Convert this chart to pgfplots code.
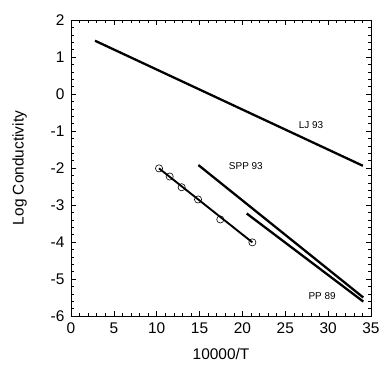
\documentclass[border=0pt]{standalone}
\usepackage{pgfplots}
\pgfplotsset{compat=1.18}
\usepackage{fontspec}
\setmainfont{Liberation Sans}
\begin{document}
\begin{tikzpicture}
\useasboundingbox (-71bp,-63bp) rectangle (320bp,316bp);
\begin{axis}[
  at={(0,0)}, anchor=south west,
  scale only axis, width=300bp, height=296bp,
  xmin=0, xmax=35, ymin=-6, ymax=2,
  xtick={0,5,...,35}, ytick={-6,-5,...,2},
  minor x tick num=4, minor y tick num=4,
  tick align=inside, major tick length=5bp, minor tick length=3bp,
  axis line style={line width=0.8pt},
  every tick/.style={black, line width=0.6pt},
  tick label style={font=\fontsize{15.5}{17}\selectfont},
  xticklabel style={yshift=-3bp},
  yticklabel style={xshift=-3bp},
  /pgf/number format/assume math mode=true,
  xlabel={10000/T}, ylabel={Log Conductivity},
  label style={font=\fontsize{15.5}{17}\selectfont},
  xlabel style={yshift=-8bp},
  ylabel style={yshift=17bp},
  clip=false,
]
\addplot[black, line width=2.3pt] coordinates {(2.8,1.44) (34.05,-1.94)};
\addplot[black, line width=2.3pt] coordinates {(14.86,-1.92) (34.1,-5.50)};
\addplot[black, line width=2.3pt] coordinates {(20.5,-3.23) (34.1,-5.61)};
\addplot[black, line width=1.9pt] coordinates {(10.27,-2.01) (21.16,-4.01)};
\addplot[only marks, mark=o, mark size=3.6pt, mark options={black, line width=0.6pt}] coordinates {
(10.27,-2.01) (11.51,-2.23) (12.91,-2.52) (14.82,-2.85) (17.42,-3.39) (21.16,-4.01)};
\node[font=\fontsize{10}{12}\selectfont] at (axis cs:28.0,-0.84) {LJ 93};
\node[font=\fontsize{10}{12}\selectfont] at (axis cs:20.4,-1.94) {SPP 93};
\node[font=\fontsize{10}{12}\selectfont] at (axis cs:29.3,-5.45) {PP 89};
\end{axis}
\end{tikzpicture}
\end{document}
